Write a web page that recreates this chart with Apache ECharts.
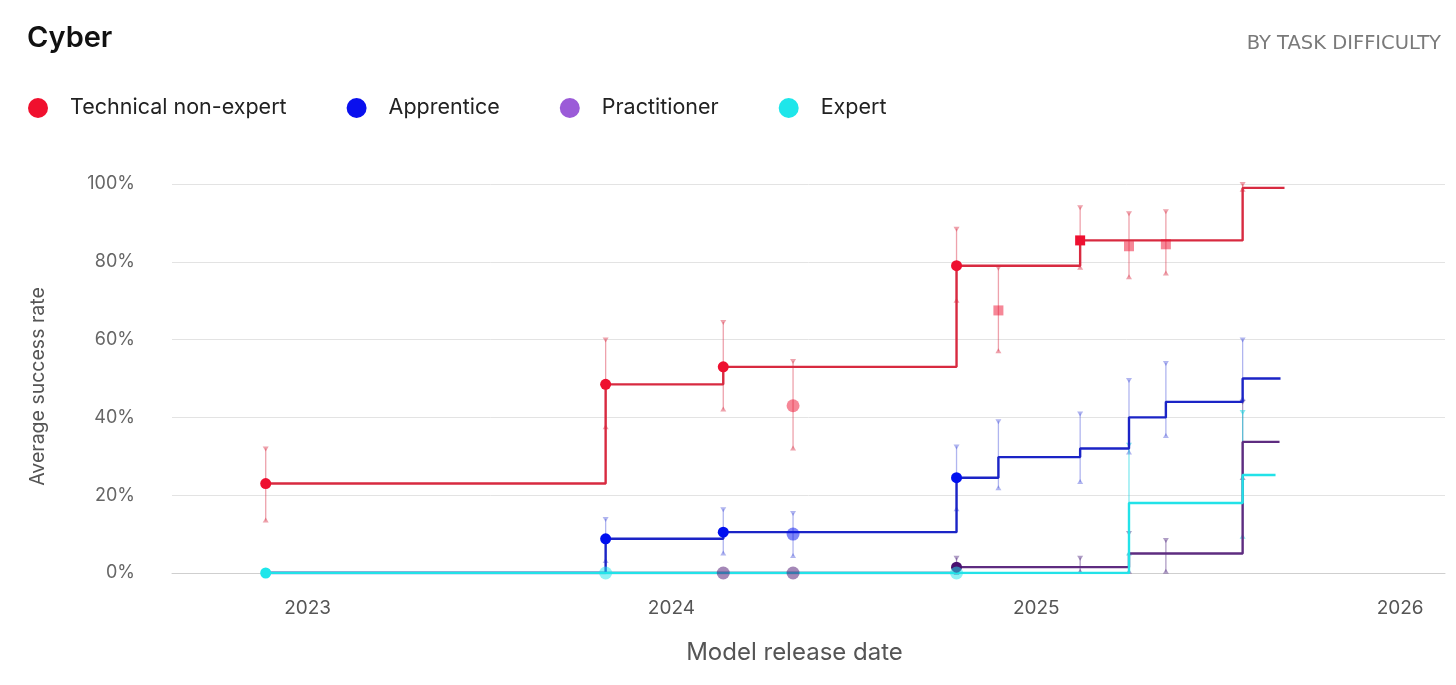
<!DOCTYPE html>
<html><head><meta charset="utf-8">
<script src="https://cdn.jsdelivr.net/npm/echarts@6/dist/echarts.min.js"></script>
<style>html,body{margin:0;padding:0;background:#fff}#c{width:1456px;height:685px}</style>
</head><body><div id="c"></div>
<script>
// ---- data ----
const difficulties = ['Technical non-expert', 'Apprentice', 'Practitioner', 'Expert'];
const modelDates = ['2022-11-20','2023-10-27','2024-02-22','2024-05-02','2024-10-13','2024-11-24','2025-02-14','2025-04-04','2025-05-11','2025-07-27'];
const yTicks = [0, 20, 40, 60, 80, 100];
const yearTicks = ['2023-01-01','2024-01-01','2025-01-01','2026-01-01'];

const tneMean = [23, 48.5, 53, 43, 79, 67.5, 85.5, 84, 84.5, 99];
const tneLow  = [13.5, 37.5, 42, 32, 70, 57, 78.5, 76, 77, 98.5];
const tneHigh = [32, 60, 64.5, 54.5, 88.5, 78.5, 94, 92.5, 93, 100];
const tneMarks = ['c','c','c','fc','c','fs','s','fs','fs',''];
const tneFrontier = [0, 1, 2, 4, 6, 9];
const tneEnd = '2025-09-07';

const appMean = [0, 8.8, 10.5, 10, 24.5, 29.8, 32, 40, 44, 50];
const appLow  = [null, 3.1, 5, 4.4, 16.4, 21.8, 23.4, 31, 35.2, 44.7];
const appHigh = [null, 13.9, 16.4, 15.4, 32.5, 39, 41, 49.6, 54, 60];
const appMarks = ['','c','c','fc','c','','','','',''];
const appFrontier = [0, 1, 2, 4, 5, 6, 7, 8, 9];
const appEnd = '2025-09-03';

const praMean = [0, 0, 0, 0, 1.5, 0, 1.5, 5, 3, 33.7];
const praLow  = [null, null, null, null, 0, null, 0.3, 0.3, 0.3, 24.4];
const praHigh = [null, null, null, null, 3.9, null, 3.9, 10.3, 8.5, 44];
const praMarks = ['','','fc','fc','c','','','','',''];
const praFrontier = [0, 4, 7, 9];
const praEnd = '2025-09-02';

const expMean = [0, 0, 0, 0, 0, 0, 0, 18, 0, 25.2];
const expLow  = [null, null, null, null, null, null, null, 5, null, 9.3];
const expHigh = [null, null, null, null, null, null, null, 33, null, 41.4];
const expMarks = ['c','fc','','','fc','','','','',''];
const expFrontier = [0, 7, 9];
const expEnd = '2025-08-29';

// ---- styles ----
const T = s => Date.parse(s + 'T00:00:00Z');
const FONT = 'Inter';
const styles = [
  {legend:'#f0102e', line:'#d82a40', dot:'#ee1030', err:'rgba(222,70,90,0.5)'},
  {legend:'#0a10ee', line:'#1b24c6', dot:'#0010f0', err:'rgba(80,90,220,0.45)'},
  {legend:'#9b5bd8', line:'#5e2c80', dot:'#4a1070', err:'rgba(95,60,140,0.5)'},
  {legend:'#1ee6ea', line:'#22e2e8', dot:'#1ee6ea', err:'rgba(30,215,225,0.55)'}
];
const groups = [
  [tneMean, tneLow, tneHigh, tneMarks, tneFrontier, tneEnd],
  [appMean, appLow, appHigh, appMarks, appFrontier, appEnd],
  [praMean, praLow, praHigh, praMarks, praFrontier, praEnd],
  [expMean, expLow, expHigh, expMarks, expFrontier, expEnd]
];

function errRender(color) {
  return function (params, api) {
    const x = api.value(0);
    const lo = api.coord([x, api.value(1)]);
    const hi = api.coord([x, api.value(2)]);
    const s = 3;
    return {type:'group', children:[
      {type:'line', shape:{x1:lo[0], y1:lo[1], x2:hi[0], y2:hi[1]}, style:{stroke:color, lineWidth:1.3}},
      {type:'polygon', shape:{points:[[hi[0]-s, hi[1]-2], [hi[0]+s, hi[1]-2], [hi[0], hi[1]+3]]}, style:{fill:color}},
      {type:'polygon', shape:{points:[[lo[0]-s, lo[1]+2], [lo[0]+s, lo[1]+2], [lo[0], lo[1]-3]]}, style:{fill:color}}
    ]};
  };
}

const errSeries = [], lineSeries = [], dotSeries = [];
groups.forEach((g, k) => {
  const [mean, low, high, marks, frontier, end] = g;
  const st = styles[k];
  const name = difficulties[k];
  const errData = [];
  modelDates.forEach((d, i) => { if (low[i] != null) errData.push([T(d), low[i], high[i]]); });
  errSeries.push({type:'custom', name, data:errData, renderItem:errRender(st.err), encode:{x:0, y:[1,2]}, z:2, silent:true});
  const stepData = frontier.map(i => [T(modelDates[i]), mean[i]]);
  stepData.push([T(end), mean[frontier[frontier.length-1]]]);
  lineSeries.push({type:'line', name, step:'end', data:stepData, showSymbol:false, symbol:'none',
    lineStyle:{color:st.line, width:2.4}, itemStyle:{color:st.line}, z:3 + k * 0.1, silent:true});
  const dots = [];
  modelDates.forEach((d, i) => {
    const m = marks[i];
    if (!m) return;
    const faded = m[0] === 'f';
    const square = m === 's' || m === 'fs';
    dots.push({value:[T(d), mean[i]], symbol: square ? 'rect' : 'circle',
      symbolSize: square ? 10 : (faded ? 13 : 11),
      itemStyle:{color:st.dot, opacity: faded ? 0.5 : 1}});
  });
  dotSeries.push({type:'scatter', name, data:dots, z:5 + k * 0.1, silent:true});
});

const chart = echarts.init(document.getElementById('c'), null, {renderer:'canvas'});
chart.setOption({
  animation:false,
  backgroundColor:'#ffffff',
  title:[
    {text:'Cyber', left:22, top:19, textStyle:{fontFamily:FONT, fontSize:29, fontWeight:600, color:'#111'}},
    {text:'BY TASK DIFFICULTY', right:10, top:29, textStyle:{fontFamily:'DejaVu Sans', fontSize:19.5, fontWeight:'normal', color:'#7a7a7a'}}
  ],
  legend:{
    left:28, top:97, padding:0, itemWidth:20, itemHeight:20, itemGap:60, icon:'circle',
    data: difficulties.map((n, k) => ({name:n, itemStyle:{color:styles[k].legend}})),
    textStyle:{fontFamily:FONT, fontSize:21.5, color:'#222', padding:[0,0,0,17]},
    selectedMode:false
  },
  grid:{left:172, right:11, top:184, bottom:112},
  xAxis:{
    type:'value', min:T('2022-08-18'), max:T('2026-02-15'),
    name:'Model release date', nameLocation:'middle', nameGap:68,
    nameTextStyle:{fontFamily:FONT, fontSize:24, color:'#555', padding:[0,28,0,0]},
    axisLine:{show:true, lineStyle:{color:'#cfcfcf', width:1}},
    axisTick:{show:false},
    splitLine:{show:false},
    axisLabel:{customValues: yearTicks.map(T), formatter: v => String(new Date(v).getUTCFullYear()),
      fontFamily:FONT, fontSize:19, color:'#555', margin:26}
  },
  yAxis:{
    type:'value', min:0, max:100, interval:20,
    name:'Average success rate', nameLocation:'middle', nameGap:124, nameRotate:90,
    nameTextStyle:{fontFamily:FONT, fontSize:19.5, color:'#555', padding:[0,16,0,0]},
    axisLine:{show:false}, axisTick:{show:false},
    splitLine:{lineStyle:{color:'#e3e3e3', width:1}},
    axisLabel:{formatter:'{value}%', fontFamily:FONT, fontSize:18, color:'#666', margin:37}
  },
  series:[...errSeries, ...lineSeries, ...dotSeries]
});
</script></body></html>
